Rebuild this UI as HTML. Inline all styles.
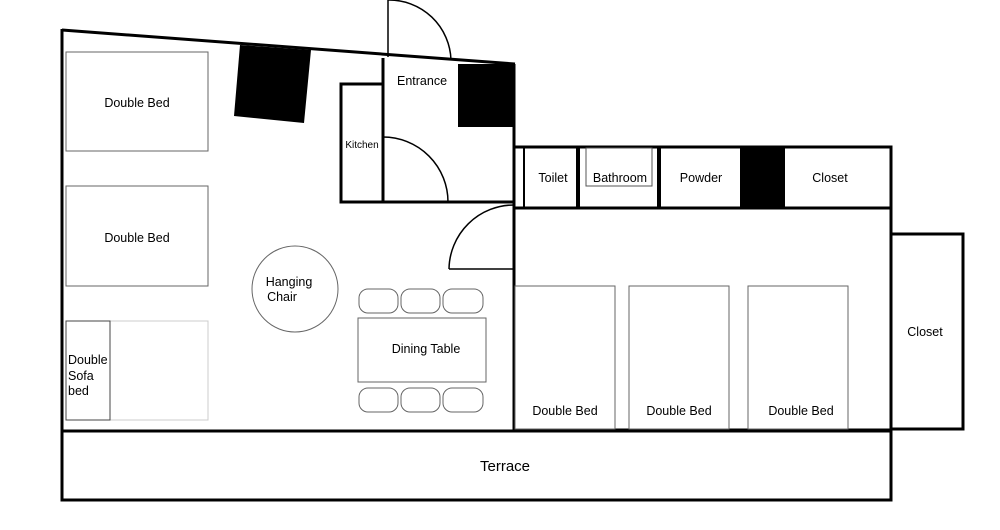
<!DOCTYPE html>
<html><head><meta charset="utf-8"><style>html,body{margin:0;padding:0;background:#fff}svg{display:block}text{font-family:"Liberation Sans",sans-serif;fill:#000}</style></head>
<body>
<svg width="1000" height="530" viewBox="0 0 1000 530" xmlns="http://www.w3.org/2000/svg">
<g fill="none" stroke="#000">
<!-- left room walls -->
<path d="M62,30 L515,64" stroke-width="3"/>
<path d="M62,29 L62,431" stroke-width="3"/>
<path d="M514,64 L514,431" stroke-width="3"/>
<!-- entrance -->
<path d="M383,58 L383,202" stroke-width="3"/>
<path d="M341,202 L514,202" stroke-width="3"/>
<rect x="341" y="84" width="42" height="118" stroke-width="3"/>
<!-- doors -->
<path d="M388,0 L388,57" stroke-width="1.5"/>
<path d="M388,0 A62,62 0 0 1 451,60" stroke-width="1.5"/>
<path d="M383,137 A65,65 0 0 1 448,202" stroke-width="1.5"/>
<path d="M449,269 L514,269" stroke-width="1.5"/>
<path d="M449,269 A65,65 0 0 1 514,205" stroke-width="1.5"/>
<!-- right strip -->
<rect x="514" y="147" width="377" height="61" stroke-width="3"/>
<path d="M524,147 L524,208" stroke-width="2"/>
<path d="M578,147 L578,208" stroke-width="4"/>
<path d="M659,147 L659,208" stroke-width="4"/>
<rect x="586" y="148" width="66" height="38" stroke-width="1" stroke="#555"/>
<!-- bedroom -->
<rect x="514" y="208" width="377" height="222" stroke-width="3"/>
<rect x="891" y="234" width="72" height="195" stroke-width="3"/>
<!-- terrace -->
<rect x="62" y="431" width="829" height="69" stroke-width="3"/>
<!-- beds -->
<g stroke="#666" stroke-width="1">
<rect x="515" y="286" width="100" height="143"/>
<rect x="629" y="286" width="100" height="143"/>
<rect x="748" y="286" width="100" height="143"/>
<rect x="66" y="52" width="142" height="99"/>
<rect x="66" y="186" width="142" height="100"/>
<rect x="66" y="321" width="142" height="99" stroke="#ccc"/>
<rect x="66" y="321" width="44" height="99" stroke="#444"/>
<circle cx="295" cy="289" r="43"/>
<rect x="358" y="318" width="128" height="64"/>
<rect x="359" y="289" width="39" height="24" rx="9"/>
<rect x="401" y="289" width="39" height="24" rx="9"/>
<rect x="443" y="289" width="40" height="24" rx="9"/>
<rect x="359" y="388" width="39" height="24" rx="9"/>
<rect x="401" y="388" width="39" height="24" rx="9"/>
<rect x="443" y="388" width="40" height="24" rx="9"/>
</g>
</g>
<!-- black blocks -->
<polygon points="240,45 311,50 304,123 234,116" fill="#000"/>
<rect x="458" y="64" width="56" height="63" fill="#000"/>
<rect x="740" y="147" width="45" height="61" fill="#000"/>
<!-- labels -->
<g font-size="12.5" text-anchor="middle">
<text x="137" y="107">Double Bed</text>
<text x="137" y="242">Double Bed</text>
<text x="422" y="85">Entrance</text>
<text x="362" y="148" font-size="10">Kitchen</text>
<text x="553" y="182">Toilet</text>
<text x="620" y="182">Bathroom</text>
<text x="701" y="182">Powder</text>
<text x="830" y="182">Closet</text>
<text x="925" y="336">Closet</text>
<text x="289" y="286">Hanging</text>
<text x="282" y="301">Chair</text>
<text x="426" y="353">Dining Table</text>
<text x="565" y="415">Double Bed</text>
<text x="679" y="415">Double Bed</text>
<text x="801" y="415">Double Bed</text>
<text x="505" y="471" font-size="15">Terrace</text>
</g>
<g font-size="12.5">
<text x="68" y="364">Double</text>
<text x="68" y="380">Sofa</text>
<text x="68" y="395">bed</text>
</g>
</svg>
</body></html>
